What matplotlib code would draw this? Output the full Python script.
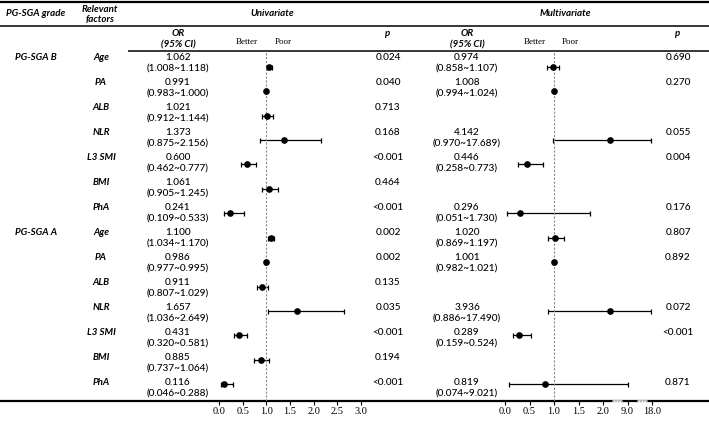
import matplotlib.pyplot as plt
import numpy as np

plt.rcParams['font.family'] = ['Lato', 'DejaVu Sans']

# table data: 7 factors per PG-SGA grade
groups = ['PG-SGA B', 'PG-SGA A']
factors = ['Age', 'PA', 'ALB', 'NLR', 'L3 SMI', 'BMI', 'PhA']

uni_or = [1.062, 0.991, 1.021, 1.373, 0.600, 1.061, 0.241,
          1.100, 0.986, 0.911, 1.657, 0.431, 0.885, 0.116]
uni_lo = [1.008, 0.983, 0.912, 0.875, 0.462, 0.905, 0.109,
          1.034, 0.977, 0.807, 1.036, 0.320, 0.737, 0.046]
uni_hi = [1.118, 1.000, 1.144, 2.156, 0.777, 1.245, 0.533,
          1.170, 0.995, 1.029, 2.649, 0.581, 1.064, 0.288]
uni_p = ['0.024', '0.040', '0.713', '0.168', '<0.001', '0.464', '<0.001',
         '0.002', '0.002', '0.135', '0.035', '<0.001', '0.194', '<0.001']

nan = np.nan
multi_or = [0.974, 1.008, nan, 4.142, 0.446, nan, 0.296,
            1.020, 1.001, nan, 3.936, 0.289, nan, 0.819]
multi_lo = [0.858, 0.994, nan, 0.970, 0.258, nan, 0.051,
            0.869, 0.982, nan, 0.886, 0.159, nan, 0.074]
multi_hi = [1.107, 1.024, nan, 17.689, 0.773, nan, 1.730,
            1.197, 1.021, nan, 17.490, 0.524, nan, 9.021]
multi_p = ['0.690', '0.270', '', '0.055', '0.004', '', '0.176',
           '0.807', '0.892', '', '0.072', '<0.001', '', '0.871']

uni_ticks = [0, 0.5, 1, 1.5, 2, 2.5, 3]
multi_ticks = [0, 0.5, 1, 1.5, 2, 9, 18]

W, H = 709, 422
fig = plt.figure(figsize=(W / 100, H / 100), dpi=100)

# background axes in pixel units for the table part
tab = fig.add_axes([0, 0, 1, 1])
tab.set_xlim(0, W)
tab.set_ylim(H, 0)
tab.axis('off')

bi = dict(fontweight='bold', fontstyle='italic', fontsize=7, ha='center', va='center')
rg = dict(fontsize=7.2, fontweight='medium', ha='center', va='center')

tab.hlines(2, 0, W, color='black', lw=1.6)
tab.hlines(26, 0, W, color='black', lw=1.1)
tab.hlines(51, 128, W, color='black', lw=1.1)
tab.hlines(401, 0, W, color='black', lw=1.6)
# axis break marks on the multivariate scale
for x1, x2 in [(612, 622), (637, 647)]:
    tab.hlines(401, x1, x2, color='white', lw=1.8)
    tab.hlines(401, x1, x2, color='#999999', lw=1.0, linestyles=(0, (1, 1)))

tab.text(36, 14, 'PG-SGA grade', **bi)
tab.text(100, 9, 'Relevant', **bi)
tab.text(100, 19.5, 'factors', **bi)
tab.text(272, 14, 'Univariate', **bi)
tab.text(565, 14, 'Multivariate', **bi)
for xc in (178, 467):
    tab.text(xc, 34, 'OR', **bi)
    tab.text(xc, 45, '(95% CI)', **bi)
for xc in (388, 678):
    tab.text(xc, 34, 'p', **bi)

y0, row_h = 57.5, 25
for g, name in enumerate(groups):
    tab.text(36, y0 + 7 * g * row_h, name, **bi)

for i in range(len(uni_or)):
    y = y0 + i * row_h
    tab.text(101, y, factors[i % 7], **bi)
    tab.text(178, y, f'{uni_or[i]:.3f}', **rg)
    tab.text(178, y + 12, f'({uni_lo[i]:.3f}~{uni_hi[i]:.3f})', **rg)
    tab.text(388, y, uni_p[i], **rg)
    if not np.isnan(multi_or[i]):
        tab.text(467, y, f'{multi_or[i]:.3f}', **rg)
        tab.text(467, y + 12, f'({multi_lo[i]:.3f}~{multi_hi[i]:.3f})', **rg)
    tab.text(678, y, multi_p[i], **rg)


# broken scale for the multivariate panel: 0-2 linear, then 9 and 18
def fwd(v):
    v = np.asarray(v, dtype=float)
    return np.where(v <= 2, v, np.where(v <= 9, 2 + (v - 2) / 14, 2.5 + (v - 9) / 18))


def inv(t):
    t = np.asarray(t, dtype=float)
    return np.where(t <= 2, t, np.where(t <= 2.5, 2 + (t - 2) * 14, 9 + (t - 2.5) * 18))


def forest(left, width, orv, lo, hi, ticks, xmax, broken=False):
    ax = fig.add_axes([left / W, (H - 401) / H, width / W, 350 / H])
    ax.patch.set_visible(False)
    if broken:
        ax.set_xscale('function', functions=(fwd, inv))
    orv, lo, hi = np.array(orv), np.array(lo), np.array(hi)
    rows = np.arange(len(orv))
    ax.errorbar(orv, rows, xerr=[orv - lo, hi - orv], fmt='o', color='black',
                ms=3.8, lw=0.9, capsize=1.8, capthick=0.9)
    ax.axvline(1, color='#888888', lw=0.8, linestyle=(0, (2, 1.5)))
    ax.set_xlim(0, xmax)
    ax.set_ylim(13.68, -0.64)
    ax.set_xticks(ticks)
    ax.set_xticklabels([f'{t:.1f}' for t in ticks], family='Liberation Serif', fontsize=7.5)
    ax.tick_params(axis='x', length=3, width=0.8, pad=1.2)
    ax.set_yticks([])
    for s in ax.spines.values():
        s.set_visible(False)
    ax.annotate('Better', xy=(1, 1), xycoords=('data', 'axes fraction'),
                xytext=(-8, 9), textcoords='offset pixels', ha='right', va='center',
                family='Liberation Serif', fontsize=6.5)
    ax.annotate('Poor', xy=(1, 1), xycoords=('data', 'axes fraction'),
                xytext=(8, 9), textcoords='offset pixels', ha='left', va='center',
                family='Liberation Serif', fontsize=6.5)
    return ax


forest(219, 142, uni_or, uni_lo, uni_hi, uni_ticks, 3)
forest(505, 147, multi_or, multi_lo, multi_hi, multi_ticks, 18, broken=True)

fig.savefig('out.png', dpi=100)
